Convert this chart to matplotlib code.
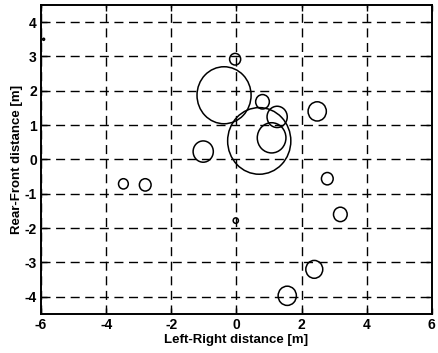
import matplotlib
matplotlib.use("Agg")
import matplotlib.pyplot as plt
from matplotlib.patches import Circle

# 各目标位置 (m) 与半径 (m)
x_pos = [-5.92, -0.04, -0.38, 0.80, 1.25, 2.48, 0.70, 1.08, -1.02,
         2.79, -3.47, -2.80, 3.19, -0.02, 2.39, 1.56]
y_pos = [3.50, 2.92, 1.87, 1.68, 1.24, 1.40, 0.54, 0.63, 0.23,
         -0.56, -0.71, -0.74, -1.60, -1.78, -3.20, -3.97]
radius = [0.03, 0.17, 0.83, 0.21, 0.31, 0.28, 0.97, 0.44, 0.31,
          0.18, 0.15, 0.18, 0.21, 0.08, 0.26, 0.28]

x_ticks = [-6, -4, -2, 0, 2, 4, 6]
y_ticks = [-4, -3, -2, -1, 0, 1, 2, 3, 4]

plt.rcParams['font.family'] = ['Liberation Sans', 'DejaVu Sans']

fig = plt.figure(figsize=(4.38, 3.53), dpi=100)
ax = fig.add_axes([0.0936, 0.1105, 0.8924, 0.8755])

for x, y, r in zip(x_pos, y_pos, radius):
    ax.add_patch(Circle((x, y), r, fill=False, edgecolor='black', linewidth=1.1))

ax.set_xlim(-6, 6)
ax.set_ylim(-4.5, 4.5)
ax.set_xticks(x_ticks)
ax.set_yticks(y_ticks)
ax.set_xticklabels([str(v) for v in x_ticks], fontweight='bold', fontsize=10)
ax.set_yticklabels([str(v) for v in y_ticks], fontweight='bold', fontsize=10)
ax.tick_params(direction='in', length=4, width=1, top=True, right=True, pad=3)

ax.grid(True, color='black', linestyle=(0, (6.5, 4)), linewidth=1.0)
ax.set_axisbelow(True)
for s in ax.spines.values():
    s.set_linewidth(1.4)

ax.set_xlabel('Left-Right distance [m]', fontweight='bold', fontsize=9.5, labelpad=1)
ax.set_ylabel('Rear-Front distance [m]', fontweight='bold', fontsize=9.5, labelpad=1)

fig.savefig("out.png", dpi=100)
